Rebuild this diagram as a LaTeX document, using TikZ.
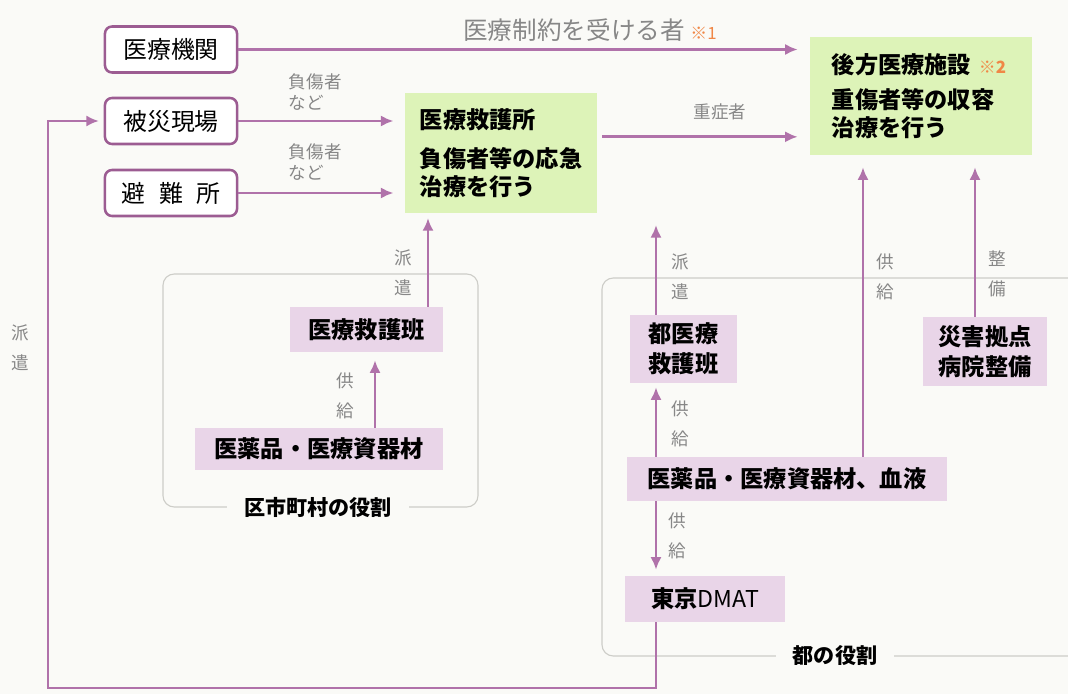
\documentclass[tikz,border=0pt]{standalone}
\usepackage{fontspec}
\setmainfont{Noto Sans CJK JP}
\usetikzlibrary{arrows.meta}

\definecolor{paper}{RGB}{250,250,247}
\definecolor{flowline}{RGB}{176,114,170}
\definecolor{boxline}{RGB}{156,92,146}
\definecolor{pinkfill}{RGB}{233,213,232}
\definecolor{greenfill}{RGB}{221,243,184}
\definecolor{notegray}{RGB}{135,135,135}
\definecolor{framegray}{RGB}{205,205,200}
\definecolor{markorange}{RGB}{240,135,70}

\begin{document}
\begin{tikzpicture}[x=0.025cm, y=-0.025cm, >={Latex[length=9pt,width=8pt]},
  place/.style={draw=boxline, line width=1.8pt, rounded corners=5pt, fill=white,
    minimum width=3.3cm, minimum height=1.15cm, inner sep=0pt,
    font=\fontsize{17}{20}\selectfont},
  hub/.style={fill=greenfill, align=left, inner ysep=0pt,
    font=\bfseries\fontsize{16.5}{20}\selectfont},
  team/.style={fill=pinkfill, inner sep=0pt, align=center,
    font=\bfseries\fontsize{16.5}{21}\selectfont},
  flow/.style={->, draw=flowline, line width=2pt},
  note/.style={text=notegray, align=center, font=\fontsize{12.5}{21}\selectfont},
  role/.style={draw=framegray, line width=0.8pt, rounded corners=8pt},
  rolelabel/.style={fill=paper, inner xsep=12pt, font=\bfseries\fontsize{15}{18}\selectfont}]

% background and size
\fill[paper] (0,0) rectangle (1068,694);
\useasboundingbox (0,0) rectangle (1068,694);

% ROLE FRAMES
\draw[role] (163,274) rectangle (478,507);
\node[rolelabel] (kurole) at (318,507) {区市町村の役割};
\draw[role] (1068,278) -- (602,278) -- (602,656) -- (1068,656);
\node[rolelabel] (torole) at (835,656) {都の役割};

% LEFT PLACES
\node[place] (kikan) at (171,49.5) {医療機関};
\node[place] (genba) at (171,121) {被災現場};
\node[place] (hinanjo) at (171,193) {避\hspace{0.55em}難\hspace{0.55em}所};

% CARE CENTRES
\node[hub, minimum width=4.8cm, minimum height=3cm, inner xsep=0.375cm, text width=4.05cm]
  (kyugosho) at (501,153) {医療救護所\\[8pt]負傷者等の応急\\治療を行う};
\node[hub, minimum width=5.55cm, minimum height=2.95cm, inner xsep=0.55cm, text width=4.45cm]
  (kohou) at (921,96) {後方医療施設 {\color{markorange}\fontsize{12}{14}\selectfont ※2}\\[5pt]重傷者等の収容\\治療を行う};

% TEAMS AND SUPPLIES
\node[team, minimum width=3.825cm, minimum height=1.125cm] (kyugohan) at (366.5,329.5) {医療救護班};
\node[team, minimum width=6.2cm, minimum height=1.05cm] (yakuhin) at (319,449) {医薬品・医療資器材};
\node[team, minimum width=2.675cm, minimum height=1.7cm] (tohan) at (683.5,349) {都医療\\救護班};
\node[team, minimum width=3.1cm, minimum height=1.725cm] (kyoten) at (985,351.5) {災害拠点\\病院整備};
\node[team, minimum width=8cm, minimum height=1.1cm] (toyakuhin) at (787,479) {医薬品・医療資器材、血液};
\node[team, minimum width=4cm, minimum height=1.15cm] (dmat) at (705,599) {東京{\mdseries DMAT}};

% columns and free ends
\coordinate (kucol) at (375,0);
\coordinate (hancol) at (428,0);
\coordinate (tocol) at (656,0);
\coordinate (kyocol) at (863,0);
\coordinate (seicol) at (975,0);
\coordinate (hakensaki) at (656,225);
\coordinate (corner) at (48,688);
\coordinate (jushoout) at ([yshift=11.5pt]kyugosho.east);

% horizontal flows
\draw[flow, shorten >=0.3cm] (kikan.east) -- (kikan.east -| kohou.west);
\draw[flow, shorten >=0.28cm] (genba.east) -- (genba.east -| kyugosho.west);
\draw[flow, shorten >=0.28cm] (hinanjo.east) -- (hinanjo.east -| kyugosho.west);
\draw[flow, shorten <=0.12cm, shorten >=0.3cm] (jushoout) -- (jushoout -| kohou.west);

% vertical flows
\draw[flow, shorten >=0.2cm] (yakuhin.north -| kucol) -- (kyugohan.south -| kucol);
\draw[flow, shorten >=0.12cm] (kyugohan.north -| hancol) -- (kyugosho.south -| hancol);
\draw[flow, shorten >=0.1cm] (toyakuhin.north -| tocol) -- (tohan.south -| tocol);
\draw[flow] (tohan.north -| tocol) -- (hakensaki);
\draw[flow, shorten >=0.3cm] (toyakuhin.north -| kyocol) -- (kohou.south -| kyocol);
\draw[flow, shorten >=0.3cm] (kyoten.north -| seicol) -- (kohou.south -| seicol);
\draw[flow, shorten >=0.15cm] (toyakuhin.south -| tocol) -- (dmat.north -| tocol);
\draw[flow, shorten >=0.12cm] (dmat.south -| tocol) |- (corner) |- (genba.west);

% labels on flows
\node[note, font=\fontsize{17.5}{20}\selectfont] (seiyaku) at (590,30)
  {医療制約を受ける者 {\color{markorange}\fontsize{12}{14}\selectfont ※1}};
\node[note, anchor=west, align=left, font=\fontsize{12.5}{15}\selectfont] (fusho1) at (284,92) {負傷者\\など};
\node[note, anchor=west, align=left, font=\fontsize{12.5}{15}\selectfont] (fusho2) at (284,162) {負傷者\\など};
\node[note] (jusho) at (720,112) {重症者};
\node[note] (haken1) at (403,273) {派\\遣};
\node[note] (kyokyu1) at (345,396) {供\\給};
\node[note] (haken2) at (680,277) {派\\遣};
\node[note] (kyokyu2) at (885,277) {供\\給};
\node[note] (seibi) at (997,274) {整\\備};
\node[note] (kyokyu3) at (680,424) {供\\給};
\node[note] (kyokyu4) at (677,536) {供\\給};
\node[note] (haken3) at (20,348) {派\\遣};

\end{tikzpicture}
\end{document}
